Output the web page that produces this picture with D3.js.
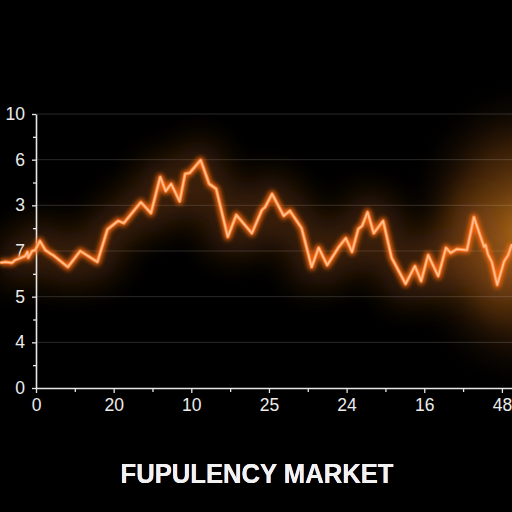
<!DOCTYPE html>
<html>
<head>
<meta charset="utf-8">
<script src="https://cdn.jsdelivr.net/npm/d3@7"></script>
<style>
  html, body { margin: 0; padding: 0; background: #000; }
  svg { display: block; }
  .tick text { font-family: "Liberation Sans", Arial, sans-serif; fill: #ececec; }
</style>
</head>
<body>
<svg id="chart" width="512" height="512"></svg>
<script>
// tick labels as printed on the picture (they are not in order)
var yLabels = ["0", "4", "5", "7", "3", "6", "10"]
var xLabels = ["0", "20", "10", "25", "24", "16", "48"]

// series, in axis units (one unit = one labelled tick)
var seriesX = [-0.46, -0.40, -0.31, -0.27, -0.21, -0.14, -0.11, -0.10, -0.05, -0.01, 0.05, 0.12, 0.18, 0.22,
  0.41, 0.57, 0.79, 0.92, 1.02, 1.06, 1.13, 1.35, 1.48, 1.60, 1.67, 1.74, 1.85, 1.92, 1.98,
  2.12, 2.23, 2.32, 2.47, 2.58, 2.78, 2.91, 2.95, 3.04, 3.19, 3.27, 3.42, 3.55, 3.64, 3.75,
  3.90, 3.99, 4.07, 4.15, 4.20, 4.27, 4.35, 4.47, 4.58, 4.76, 4.88, 4.96, 5.05, 5.18, 5.28,
  5.34, 5.42, 5.55, 5.64, 5.77, 5.79, 5.82, 5.87, 5.94, 6.03, 6.08, 6.13]
var seriesY = [2.74, 2.76, 2.74, 2.80, 2.84, 2.89, 2.98, 2.85, 3.00, 3.02, 3.22, 3.02, 2.95, 2.91,
  2.65, 3.00, 2.76, 3.47, 3.61, 3.66, 3.61, 4.07, 3.83, 4.62, 4.31, 4.47, 4.09, 4.69, 4.71,
  4.99, 4.47, 4.36, 3.31, 3.79, 3.39, 3.90, 3.96, 4.25, 3.77, 3.88, 3.50, 2.65, 3.07, 2.69,
  3.09, 3.28, 2.98, 3.48, 3.55, 3.85, 3.39, 3.66, 2.85, 2.28, 2.67, 2.34, 2.91, 2.45, 3.07,
  2.96, 3.04, 3.02, 3.74, 3.09, 3.13, 2.93, 2.76, 2.26, 2.78, 2.91, 3.15]

var title = "FUPULENCY MARKET"

var svg = d3.select("#chart")
var W = 512, H = 512
var m = { left: 36, top: 114, bottom: 388 }

var x = d3.scaleLinear().domain([0, 6.13]).range([m.left, W])
var y = d3.scaleLinear().domain([0, 6]).range([m.bottom, m.top])
var major = d3.range(0, 7)
var minor = d3.range(0.5, 6.5, 1)

var defs = svg.append("defs")
var hz = defs.append("radialGradient").attr("id", "haze")
hz.append("stop").attr("offset", "0%").attr("stop-color", "#d07e20").attr("stop-opacity", 0.85)
hz.append("stop").attr("offset", "55%").attr("stop-color", "#8a4a10").attr("stop-opacity", 0.4)
hz.append("stop").attr("offset", "100%").attr("stop-color", "#000").attr("stop-opacity", 0)
defs.append("filter").attr("id", "blurBig").attr("x", "-50%").attr("y", "-50%").attr("width", "200%").attr("height", "200%")
  .append("feGaussianBlur").attr("stdDeviation", 16)
defs.append("filter").attr("id", "blurMid").attr("x", "-20%").attr("y", "-20%").attr("width", "140%").attr("height", "140%")
  .append("feGaussianBlur").attr("stdDeviation", 2.2)
defs.append("filter").attr("id", "txtGlow")
  .append("feGaussianBlur").attr("stdDeviation", 0.6)

svg.append("rect").attr("width", W).attr("height", H).attr("fill", "#000")

// orange haze on the right side
svg.append("ellipse")
  .attr("cx", 522).attr("cy", 235).attr("rx", 125).attr("ry", 160)
  .attr("fill", "url(#haze)")

// grid
svg.append("g").selectAll("line")
  .data(major.slice(1))
  .join("line")
  .attr("x1", m.left).attr("x2", W)
  .attr("y1", d => y(d)).attr("y2", d => y(d))
  .attr("stroke", "#fff").attr("stroke-opacity", 0.16).attr("stroke-width", 1)

var line = d3.line()
  .x((d, i) => x(seriesX[i]))
  .y(d => y(d))
  .curve(d3.curveLinear)

// wide soft halo under the line
svg.append("path")
  .attr("d", line(seriesY))
  .attr("fill", "none")
  .attr("stroke", "#a85a14").attr("stroke-width", 40).attr("stroke-opacity", 0.35)
  .attr("stroke-linejoin", "round")
  .attr("filter", "url(#blurBig)")

// axes
function styleAxis(g) {
  g.select(".domain").attr("stroke", "#e6e6e6").attr("stroke-width", 1.6)
  g.selectAll(".tick line").attr("stroke", "#e6e6e6").attr("stroke-width", 1.3)
  g.selectAll(".tick text").attr("font-size", 17.5)
}

svg.append("g")
  .attr("transform", "translate(" + m.left + ",0)")
  .call(d3.axisLeft(y).tickValues(minor).tickSize(3).tickFormat(""))
  .call(g => g.select(".domain").remove())
  .call(styleAxis)
svg.append("g")
  .attr("transform", "translate(" + m.left + ",0)")
  .call(d3.axisLeft(y).tickValues(major).tickSizeInner(4).tickSizeOuter(0).tickPadding(7)
    .tickFormat((d, i) => yLabels[i]))
  .call(styleAxis)

svg.append("g")
  .attr("transform", "translate(0," + m.bottom + ")")
  .call(d3.axisBottom(x).tickValues(minor).tickSize(4).tickFormat(""))
  .call(g => g.select(".domain").remove())
  .call(styleAxis)
svg.append("g")
  .attr("transform", "translate(0," + m.bottom + ")")
  .call(d3.axisBottom(x).tickValues(major).tickSizeInner(5).tickSizeOuter(0).tickPadding(6)
    .tickFormat((d, i) => xLabels[i]))
  .call(styleAxis)

// glowing line
svg.append("path")
  .attr("d", line(seriesY))
  .attr("fill", "none")
  .attr("stroke", "#ff6a12").attr("stroke-width", 7).attr("stroke-opacity", 0.85)
  .attr("stroke-linejoin", "round")
  .attr("filter", "url(#blurMid)")
svg.append("path")
  .attr("d", line(seriesY))
  .attr("fill", "none")
  .attr("stroke", "#ff8a3a").attr("stroke-width", 3.2)
  .attr("stroke-linejoin", "round")
svg.append("path")
  .attr("d", line(seriesY))
  .attr("fill", "none")
  .attr("stroke", "#ffc49a").attr("stroke-width", 1.4)
  .attr("stroke-linejoin", "round")

// title
var tg = svg.append("g")
  .attr("font-family", "\"Liberation Sans\", Arial, sans-serif")
  .attr("font-weight", "bold").attr("font-size", 27)
  .attr("text-anchor", "middle")
tg.append("text")
  .attr("x", 257).attr("y", 483)
  .attr("textLength", 273).attr("lengthAdjust", "spacingAndGlyphs")
  .attr("fill", "#fff").attr("filter", "url(#txtGlow)")
  .text(title)
tg.append("text")
  .attr("x", 257).attr("y", 483)
  .attr("textLength", 273).attr("lengthAdjust", "spacingAndGlyphs")
  .attr("fill", "#f2f2f2")
  .text(title)
</script>
</body>
</html>
